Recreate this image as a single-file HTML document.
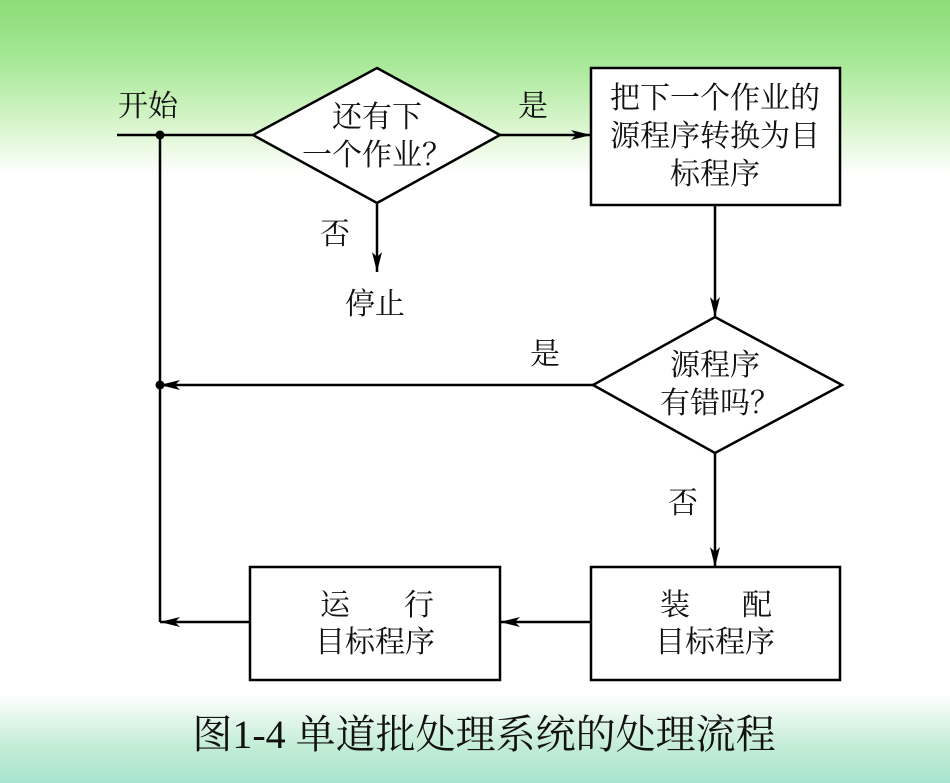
<!DOCTYPE html>
<html><head><meta charset="utf-8"><style>
html,body{margin:0;padding:0;width:950px;height:783px;overflow:hidden;background:#fff}
.bg{position:absolute;left:0;top:0;width:950px;height:783px;
background:
linear-gradient(to bottom, rgba(255,255,255,0) 0px, rgba(255,255,255,0) 695px, rgba(190,235,210,0.9) 745px, #a8e4cf 783px),
linear-gradient(to bottom, #8cdc78 0px, #a6e896 60px, #d8f5cc 125px, #ffffff 175px, #ffffff 783px);}
svg{position:absolute;left:0;top:0}
text{font-family:"Liberation Serif","Noto Serif CJK SC",serif;font-size:30px;fill:#111}
</style></head><body>
<div class="bg"></div>
<svg width="950" height="783" viewBox="0 0 950 783">
<defs>
<marker id="a" viewBox="0 0 20 10" refX="20" refY="5" markerWidth="20" markerHeight="10" markerUnits="userSpaceOnUse" orient="auto">
<path d="M0,0 L20,5 L0,10 L5,5 z" fill="#000"/></marker>
</defs>
<g stroke="#000" stroke-width="2.5" fill="none">
<line x1="117" y1="135" x2="253" y2="135"/>
<line x1="160" y1="135" x2="160" y2="622"/>
<polygon points="253,135 377,68 500,135 377,203" fill="#fff"/>
<line x1="500" y1="135" x2="591" y2="135" marker-end="url(#a)"/>
<rect x="591" y="68" width="249" height="137" fill="#fff"/>
<line x1="377" y1="203" x2="377" y2="272" marker-end="url(#a)"/>
<line x1="715" y1="205" x2="715" y2="317" marker-end="url(#a)"/>
<polygon points="593,385 715,317 842,385 715,453" fill="#fff"/>
<line x1="593" y1="385" x2="160" y2="385" marker-end="url(#a)"/>
<line x1="715" y1="453" x2="715" y2="567" marker-end="url(#a)"/>
<rect x="591" y="567" width="249" height="113" fill="#fff"/>
<rect x="250" y="567" width="250" height="113" fill="#fff"/>
<line x1="591" y1="622" x2="500" y2="622" marker-end="url(#a)"/>
<line x1="250" y1="622" x2="160" y2="622" marker-end="url(#a)"/>
</g>
<circle cx="160" cy="135" r="4.5" fill="#000"/>
<circle cx="160" cy="385" r="4.5" fill="#000"/>
<text x="118" y="116">开始</text>
<text x="377" y="127" text-anchor="middle">还有下</text>
<text x="377" y="165" text-anchor="middle">一个作业？</text>
<text x="518" y="116">是</text>
<text x="715" y="108" text-anchor="middle">把下一个作业的</text>
<text x="715" y="146" text-anchor="middle">源程序转换为目</text>
<text x="715" y="184" text-anchor="middle">标程序</text>
<text x="320" y="244">否</text>
<text x="345" y="314">停止</text>
<text x="530" y="364">是</text>
<text x="715" y="375" text-anchor="middle">源程序</text>
<text x="720" y="413" text-anchor="middle">有错吗？</text>
<text x="668" y="513">否</text>
<text x="320" y="615">运</text><text x="404" y="615">行</text>
<text x="375" y="652" text-anchor="middle">目标程序</text>
<text x="660" y="615">装</text><text x="742" y="615">配</text>
<text x="715" y="652" text-anchor="middle">目标程序</text>
<text x="484" y="748" text-anchor="middle" style="font-size:40px">图1-4  单道批处理系统的处理流程</text>
</svg>
</body></html>
